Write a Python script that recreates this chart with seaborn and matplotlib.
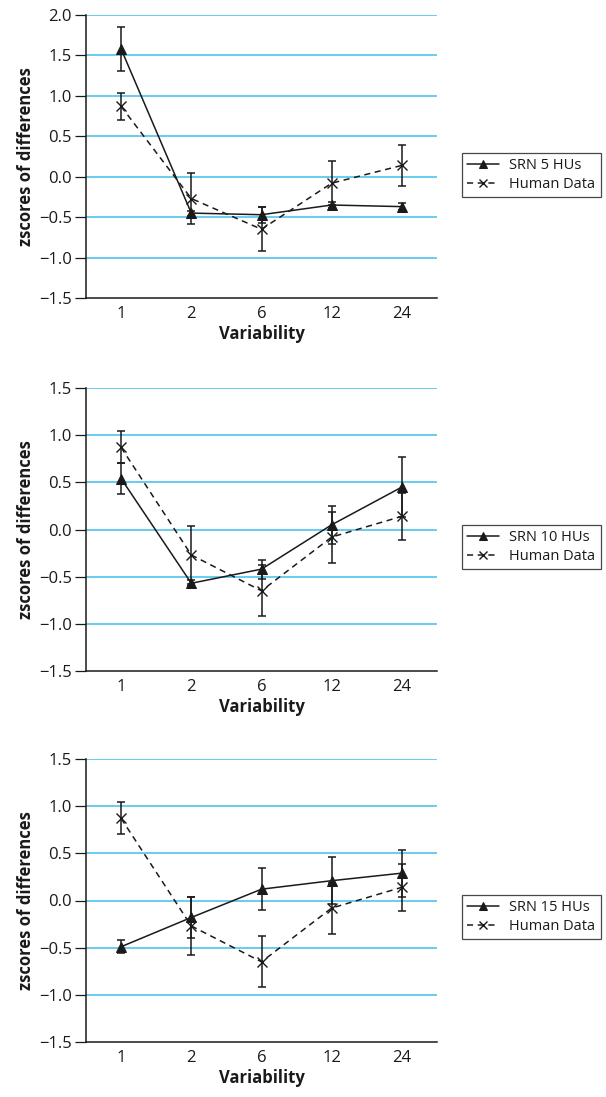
import numpy as np
import pandas as pd
import matplotlib
matplotlib.use("Agg")
import matplotlib.pyplot as plt
import seaborn as sns

categories = ["1", "2", "6", "12", "24"]
human = [0.87, -0.27, -0.65, -0.08, 0.14]
human_err = [0.17, 0.31, 0.27, 0.27, 0.25]
srn5 = [1.58, -0.45, -0.47, -0.35, -0.37]
srn5_err = [0.27, 0.03, 0.10, 0.04, 0.04]
srn10 = [0.54, -0.57, -0.42, 0.05, 0.45]
srn10_err = [0.16, 0.03, 0.10, 0.20, 0.32]
srn15 = [-0.49, -0.18, 0.12, 0.21, 0.29]
srn15_err = [0.07, 0.22, 0.22, 0.25, 0.25]
srn_labels = ["SRN 5 HUs", "SRN 10 HUs", "SRN 15 HUs"]
ylims = [(-1.5, 2.0), (-1.5, 1.5), (-1.5, 1.5)]

sns.set_theme(style="white")
plt.rcParams['font.family'] = ['Open Sans', 'DejaVu Sans']

W, H = 606, 1097
fig = plt.figure(figsize=(W / 100, H / 100), dpi=100)

panels = [(srn5, srn5_err), (srn10, srn10_err), (srn15, srn15_err)]
tops = [15, 388, 759]
bottoms = [298, 671, 1042]
leg_tops = [153, 525, 895]
left, right = 86, 437
grid_col = "#5ec8ee"
ink = "#1a1a1a"

for i, ((srn, srn_e), top, bot) in enumerate(zip(panels, tops, bottoms)):
    ax = fig.add_axes([left / W, 1 - bot / H, (right - left) / W, (bot - top) / H])
    pos = np.arange(len(categories))
    df = pd.DataFrame({"pos": pos, "srn": srn, "human": human})
    ax.errorbar(pos, srn, yerr=srn_e, fmt="none", ecolor=ink, elinewidth=1.1,
                capsize=3, capthick=1.1, zorder=3)
    ax.errorbar(pos, human, yerr=human_err, fmt="none", ecolor=ink, elinewidth=1.1,
                capsize=3, capthick=1.1, zorder=3)
    sns.lineplot(data=df, x="pos", y="srn", ax=ax, color=ink, linewidth=1.1,
                 marker="^", markersize=6.5, markeredgecolor=ink, label=srn_labels[i],
                 zorder=4)
    sns.lineplot(data=df, x="pos", y="human", ax=ax, color=ink, linewidth=1.1,
                 linestyle=(0, (4, 3)), marker="x", markersize=6.5, markeredgewidth=1.0,
                 markeredgecolor=ink, label="Human Data", zorder=4)
    lo, hi = ylims[i]
    ax.set_ylim(lo, hi)
    ax.set_xlim(-0.5, 4.5)
    yt = np.arange(lo, hi + 0.01, 0.5)
    ax.set_yticks(yt)
    ax.set_yticklabels([f"{v:.1f}".replace("-", "\u2212") for v in yt])
    for v in yt:
        if v > lo:
            ax.axhline(v, color=grid_col, linewidth=1.3, zorder=1)
    ax.set_xticks(pos)
    ax.set_xticklabels(categories)
    ax.tick_params(axis="y", which="both", left=True, length=8, width=0.9,
                   color=ink, labelsize=12, pad=2, labelcolor=ink)
    ax.tick_params(axis="x", bottom=False, length=0, labelsize=12, pad=6, labelcolor=ink)
    for s in ["top", "right"]:
        ax.spines[s].set_visible(False)
    for s in ["left", "bottom"]:
        ax.spines[s].set_color(ink)
        ax.spines[s].set_linewidth(1.1)
    ax.set_xlabel("Variability", fontsize=12, fontweight="bold", labelpad=2, color=ink)
    ax.set_ylabel("zscores of differences", fontsize=12, fontweight="bold", labelpad=3,
                  color=ink)
    handles, labels = ax.get_legend_handles_labels()
    ax.legend_.remove()
    leg = fig.legend(handles, labels, loc="upper left",
                     bbox_to_anchor=(462 / W, 1 - leg_tops[i] / H),
                     bbox_transform=fig.transFigure, frameon=True, fancybox=False,
                     edgecolor=ink, fontsize=10.5, handlelength=2.2,
                     handletextpad=0.7, borderpad=0.35, labelspacing=0.25,
                     borderaxespad=0, markerscale=0.8)
    leg.get_frame().set_linewidth(0.9)
    for t in leg.get_texts():
        t.set_color(ink)

fig.savefig("out.png", dpi=100)
